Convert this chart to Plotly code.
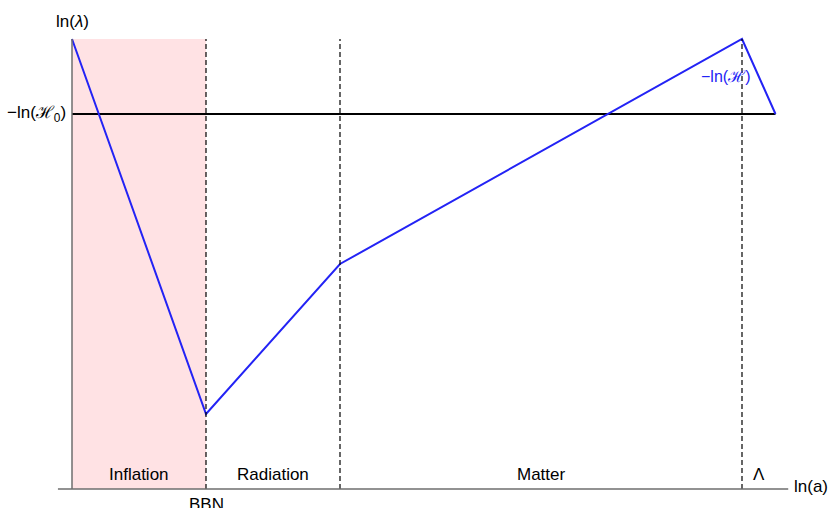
import plotly.graph_objects as go

# Data (ln(a) units, ln(lambda) units)
ln_a = [0, 2, 4, 10, 10.5]
ln_lambda = [6, 1, 3, 6, 5]
h0_level = 5
era_bounds = [0, 2, 4, 10, 10.5]
era_labels = ["Inflation", "Radiation", "Matter", "Λ"]
boundary_labels = ["BBN"]

x_axis_start, x_axis_end = -0.21, 10.69
y_top = 6

fig = go.Figure()

FONT = "Liberation Sans, Arial, sans-serif"

# Inflation shading
fig.add_shape(type="rect", x0=era_bounds[0], x1=era_bounds[1], y0=0, y1=y_top,
              fillcolor="rgb(255,226,228)", line_width=0, layer="below")

# dashed era boundaries
for xb in era_bounds[1:4]:
    fig.add_shape(type="line", x0=xb, x1=xb, y0=0, y1=y_top,
                  line=dict(color="black", width=1.2, dash="5px,3px"))

# H0 horizontal line
fig.add_trace(go.Scatter(x=[0, ln_a[-1]], y=[h0_level, h0_level], mode="lines",
                         line=dict(color="black", width=2), hoverinfo="skip"))

# Hubble radius curve
fig.add_trace(go.Scatter(x=ln_a, y=ln_lambda, mode="lines",
                         line=dict(color="rgb(35,35,245)", width=2), hoverinfo="skip"))

# axes
fig.add_shape(type="line", x0=x_axis_start, x1=x_axis_end, y0=0, y1=0,
              line=dict(color="rgb(110,110,110)", width=1.5))
fig.add_shape(type="line", x0=0, x1=0, y0=0, y1=y_top,
              line=dict(color="rgb(110,110,110)", width=1.5))

# era labels
for i, lab in enumerate(era_labels):
    xm = (era_bounds[i] + era_bounds[i + 1]) / 2
    fig.add_annotation(x=xm, y=0.2, text=lab, showarrow=False,
                       font=dict(family=FONT, size=17, color="black"))

fig.add_annotation(x=era_bounds[1], y=-0.2, text=boundary_labels[0], showarrow=False,
                   font=dict(family=FONT, size=17, color="black"))

fig.add_annotation(x=x_axis_end + 0.05, y=0.03, text="ln(a)", showarrow=False, xanchor="left",
                   font=dict(family=FONT, size=17, color="black"))
fig.add_annotation(x=0, y=y_top + 0.24, text="ln(<i>λ</i>)", showarrow=False,
                   font=dict(family=FONT, size=17, color="black"))
fig.add_annotation(x=-0.06, y=h0_level, text="−ln(ℋ<sub>0</sub>)", showarrow=False,
                   xanchor="right", font=dict(family=FONT, size=17, color="black"))
fig.add_annotation(x=9.75, y=5.5, text="−ln(ℋ)", showarrow=False,
                   font=dict(family=FONT, size=16, color="rgb(35,35,245)"))

fig.update_layout(
    width=829, height=508,
    margin=dict(l=0, r=0, t=0, b=0),
    paper_bgcolor="white", plot_bgcolor="white",
    showlegend=False,
    xaxis=dict(range=[-72 / 67, (829 - 72) / 67], visible=False, fixedrange=True),
    yaxis=dict(range=[-19 / 75, 489 / 75], visible=False, fixedrange=True),
)

fig.write_html("out.html")
